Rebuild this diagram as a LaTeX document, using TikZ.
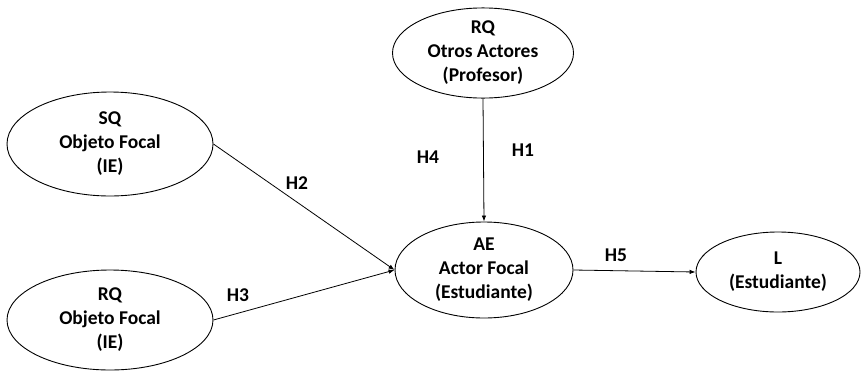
\documentclass[tikz,border=0pt]{standalone}
\usepackage{fontspec}
\setmainfont{Carlito}
\usetikzlibrary{shapes.geometric,arrows.meta}
\begin{document}
\begin{tikzpicture}[x=1pt,y=-1pt,
  ell/.style={draw,ellipse,line width=0.9pt,minimum width=#1,align=center,font=\bfseries\fontsize{19.5}{24}\selectfont,inner sep=0pt},
  lbl/.style={font=\bfseries\fontsize{19.5}{24}\selectfont},
  arr/.style={-{Latex[length=6pt,width=4.5pt]},line width=0.8pt}]
\useasboundingbox (0,0) rectangle (862,370);
\node[ell=206pt,minimum height=104pt] (sq) at (110,144) {SQ\\Objeto Focal\\(IE)};
\node[ell=206pt,minimum height=100pt] (rq) at (110,320) {RQ\\Objeto Focal\\(IE)};
\node[ell=181pt,minimum height=83pt] (oa) at (483,53) {RQ\\Otros Actores\\(Profesor)};
\node[ell=178pt,minimum height=96pt] (ae) at (484,270) {AE\\Actor Focal\\(Estudiante)};
\node[ell=164pt,minimum height=80pt] (l) at (778,272) {L\\(Estudiante)};
\draw[arr] (oa.south) -- (ae.north);
\draw[arr] (sq.east) -- (ae.west);
\draw[arr] (rq.east) -- (ae.west);
\draw[arr] (ae.east) -- (l.west);
\node[lbl] (h1) at (523,150) {H1};
\node[lbl] (h4) at (428,157) {H4};
\node[lbl] (h2) at (297,183) {H2};
\node[lbl] (h3) at (238,295) {H3};
\node[lbl] (h5) at (616,255) {H5};
\end{tikzpicture}
\end{document}
